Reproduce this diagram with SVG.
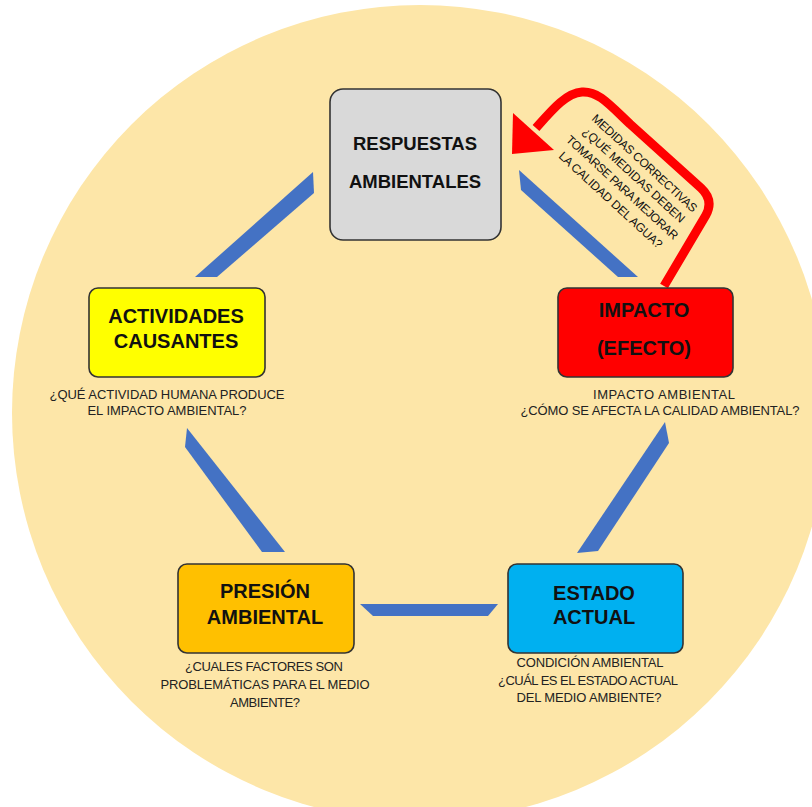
<svg xmlns="http://www.w3.org/2000/svg" width="812" height="807" viewBox="0 0 812 807">
  <style>
    .box { stroke: #333333; stroke-width: 1.6; }
    .title { font-family: "Liberation Sans", Arial, sans-serif; font-weight: bold; font-size: 20px; fill: #111; text-anchor: middle; }
    .cap { font-family: "Liberation Sans", Arial, sans-serif; font-size: 13px; fill: #222; text-anchor: middle; }
    .note { font-family: "Liberation Sans", Arial, sans-serif; font-size: 12px; fill: #111; text-anchor: middle; }
    .link { fill: #4472c4; }
  </style>

  <!-- background disc -->
  <rect width="812" height="807" fill="#ffffff"/>
  <circle cx="420" cy="413" r="408" fill="#fde6a8"/>

  <!-- connectors between the stages -->
  <g id="connectors">
    <polygon class="link" points="313,172 314,193 217,277 195,277"/>
    <polygon class="link" points="519,170 638,277 618,277 521,190"/>
    <polygon class="link" points="187,428 285,552 262,552 185,447"/>
    <polygon class="link" points="665,422 669,443 598,551 577,553"/>
    <polygon class="link" points="360,604 498,604 488,616 373,616"/>
    <!-- feedback arrow from impact back to responses -->
    <path d="M 664 286 L 706 215 Q 714 200 701 188 L 630 124 C 608 103, 598 91, 582 92 C 566 93, 552 110, 536 128" fill="none" stroke="#ff0000" stroke-width="9" stroke-linejoin="round"/>
    <polygon points="512,154 513,113 554,150" fill="#ff0000"/>
    <g transform="rotate(42.6)">
      <text class="note" x="585" y="-312" textLength="138">MEDIDAS CORRECTIVAS</text>
      <text class="note" x="585" y="-296" textLength="134">¿QUÉ MEDIDAS DEBEN</text>
      <text class="note" x="585" y="-279" textLength="147">TOMARSE PARA MEJORAR</text>
      <text class="note" x="585" y="-262" textLength="136">LA CALIDAD DEL AGUA?</text>
    </g>
  </g>

  <g id="respuestas">
    <rect class="box" x="330" y="89" width="171" height="151" rx="13" fill="#d9d9d9"/>
    <text class="title" x="415" y="150" style="font-size:18.5px">RESPUESTAS</text>
    <text class="title" x="415" y="188" style="font-size:18.5px">AMBIENTALES</text>
  </g>

  <g id="actividades">
    <rect class="box" x="89" y="288" width="176" height="89" rx="9" fill="#ffff00"/>
    <text class="title" x="176" y="323">ACTIVIDADES</text>
    <text class="title" x="176" y="348">CAUSANTES</text>
    <text class="cap" x="167" y="399" textLength="235">¿QUÉ ACTIVIDAD HUMANA PRODUCE</text>
    <text class="cap" x="167" y="415" textLength="159">EL IMPACTO AMBIENTAL?</text>
  </g>

  <g id="impacto">
    <rect class="box" x="558" y="288" width="175" height="89" rx="9" fill="#ff0000"/>
    <text class="title" x="644" y="317">IMPACTO</text>
    <text class="title" x="644" y="355">(EFECTO)</text>
    <text class="cap" x="664" y="399" textLength="142">IMPACTO AMBIENTAL</text>
    <text class="cap" x="660" y="415" textLength="279">¿CÓMO SE AFECTA LA CALIDAD AMBIENTAL?</text>
  </g>

  <g id="presion">
    <rect class="box" x="178" y="564" width="176" height="89" rx="9" fill="#ffc000"/>
    <text class="title" x="265" y="598">PRESIÓN</text>
    <text class="title" x="265" y="624">AMBIENTAL</text>
    <text class="cap" x="264" y="671" textLength="158">¿CUALES FACTORES SON</text>
    <text class="cap" x="265" y="689" textLength="209">PROBLEMÁTICAS PARA EL MEDIO</text>
    <text class="cap" x="265" y="707" textLength="70">AMBIENTE?</text>
  </g>

  <g id="estado">
    <rect class="box" x="508" y="564" width="175" height="89" rx="9" fill="#00b0f0"/>
    <text class="title" x="594" y="600">ESTADO</text>
    <text class="title" x="594" y="624">ACTUAL</text>
    <text class="cap" x="590" y="667" textLength="147">CONDICIÓN AMBIENTAL</text>
    <text class="cap" x="588" y="685" textLength="180">¿CUÁL ES EL ESTADO ACTUAL</text>
    <text class="cap" x="589" y="702" textLength="145">DEL MEDIO AMBIENTE?</text>
  </g>
</svg>
